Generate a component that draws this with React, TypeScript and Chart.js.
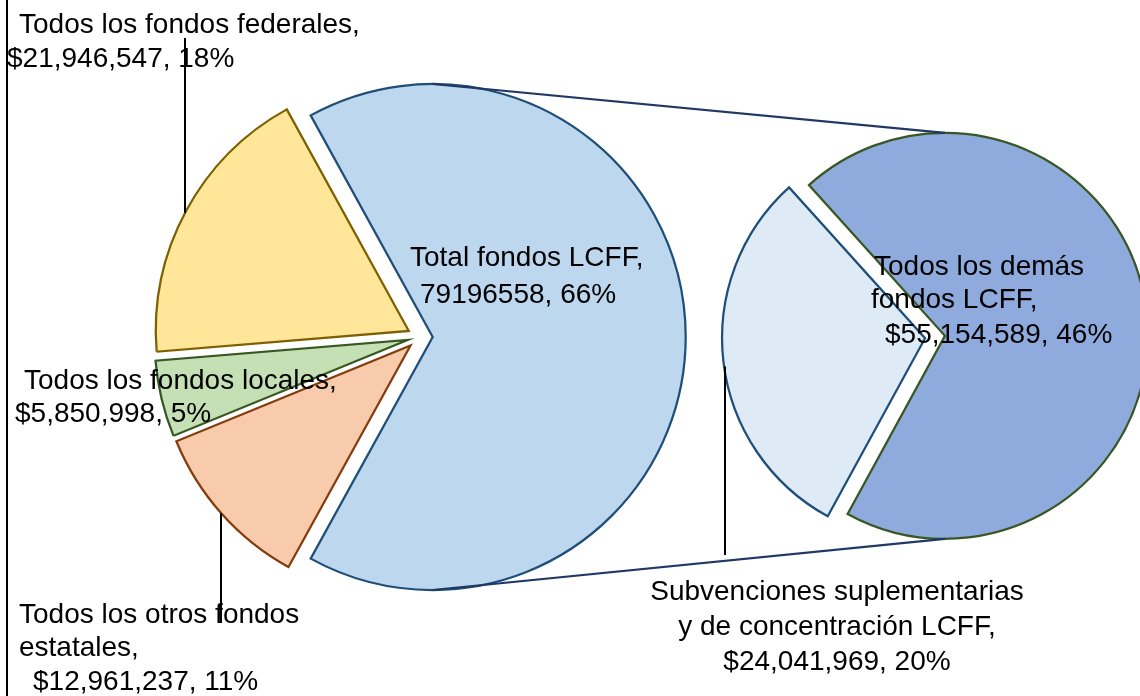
import React, { useEffect, useRef } from 'react';
import { Chart, registerables } from 'chart.js';

Chart.register(...registerables);

// ---- Data ----
const mainCategories = [
  'Total fondos LCFF',
  'Todos los otros fondos estatales',
  'Todos los fondos locales',
  'Todos los fondos federales',
];
const mainValues = [79196558, 12961237, 5850998, 21946547];
const mainColors = ['#BDD7EE', '#F8CBAD', '#C5E0B4', '#FFE699'];
const mainBorders = ['#1F4E79', '#843C0C', '#385723', '#7F6000'];

const subCategories = [
  'Subvenciones suplementarias y de concentración LCFF',
  'Todos los demás fondos LCFF',
];
const subValues = [24041969, 55154589];
const subColors = ['#DEEBF7', '#8FAADC'];
const subBorders = ['#1F4E79', '#385723'];

const grandTotal = mainValues.reduce((a, b) => a + b, 0);
const money = (v: number) => '$' + String(v).replace(/\B(?=(\d{3})+(?!\d))/g, ',');
const pct = (v: number) => Math.round((v / grandTotal) * 100) + '%';

// label text lines
const lblLCFF = ['Total fondos LCFF,', `${mainValues[0]}, ${pct(mainValues[0])}`];
const lblEstatales = ['Todos los otros fondos', 'estatales,', `${money(mainValues[1])}, ${pct(mainValues[1])}`];
const lblLocales = ['Todos los fondos locales,', `${money(mainValues[2])}, ${pct(mainValues[2])}`];
const lblFederales = ['Todos los fondos federales,', `${money(mainValues[3])}, ${pct(mainValues[3])}`];
const lblSubv = ['Subvenciones suplementarias', 'y de concentración LCFF,', `${money(subValues[0])}, ${pct(subValues[0])}`];
const lblDemas = ['Todos los demás', 'fondos LCFF,', `${money(subValues[1])}, ${pct(subValues[1])}`];

// ---- Layout / style ----
const W = 1140;
const H = 696;
const FONT = '28px "Liberation Sans", Arial, sans-serif';
const MAIN_R = 253;
const SUB_R = 203;
const MAIN_EXPLODE = 12.7;
const SUB_EXPLODE = 10;
const SUB_CENTER_ANGLE = 173.3; // degrees, screen clockwise from +x, for first slice of secondary pie

const explodePlugin = {
  id: 'explodeSlices',
  beforeDatasetDraw(chart: any, args: any, opts: any) {
    const ctx = chart.ctx;
    const dist = (opts && opts.distance) || 0;
    args.meta.data.forEach((arc: any) => {
      const a = (arc.startAngle + arc.endAngle) / 2;
      ctx.save();
      ctx.translate(Math.cos(a) * dist, Math.sin(a) * dist);
      arc.draw(ctx);
      ctx.restore();
    });
    return false;
  },
};

function arcCenter(arc: any, dist: number) {
  const a = (arc.startAngle + arc.endAngle) / 2;
  return { x: arc.x + Math.cos(a) * dist, y: arc.y + Math.sin(a) * dist, r: arc.outerRadius };
}

function arcYAt(arc: any, dist: number, x: number, lower: boolean) {
  const c = arcCenter(arc, dist);
  const dx = x - c.x;
  const dy = Math.sqrt(Math.max(c.r * c.r - dx * dx, 0));
  return lower ? c.y + dy : c.y - dy;
}

export default function App() {
  const leftRef = useRef<HTMLCanvasElement>(null);
  const rightRef = useRef<HTMLCanvasElement>(null);

  useEffect(() => {
    if (!leftRef.current || !rightRef.current) return;

    const mainRotation = 90 - ((mainValues[0] / grandTotal) * 360) / 2;
    const subTotal = subValues.reduce((a, b) => a + b, 0);
    const subRotation = 90 + SUB_CENTER_ANGLE - ((subValues[0] / subTotal) * 360) / 2;

    const common = {
      responsive: false,
      devicePixelRatio: 1,
      animation: false as const,
      events: [],
    };

    const leftChart = new Chart(leftRef.current, {
      type: 'pie',
      data: {
        labels: mainCategories,
        datasets: [
          {
            data: mainValues,
            backgroundColor: mainColors,
            borderColor: mainBorders,
            borderWidth: 2.25,
            borderJoinStyle: 'miter',
            radius: MAIN_R,
          } as any,
        ],
      },
      options: {
        ...common,
        rotation: mainRotation,
        layout: { padding: { left: 0, right: 300, top: 0, bottom: 22 } },
        plugins: {
          legend: { display: false },
          tooltip: { enabled: false },
          explodeSlices: { distance: MAIN_EXPLODE },
        } as any,
      },
      plugins: [explodePlugin],
    });

    const annotations = {
      id: 'annotations',
      afterDraw(chart: any) {
        const ctx = chart.ctx;
        ctx.save();
        // chart frame (left side)
        ctx.fillStyle = '#000';
        ctx.fillRect(6, 0, 2, H);

        const lMeta = leftChart.getDatasetMeta(0).data as any[];
        const rMeta = chart.getDatasetMeta(0).data as any[];
        const L = arcCenter(lMeta[0], MAIN_EXPLODE);
        const R = arcCenter(rMeta[1], SUB_EXPLODE);

        // connector lines
        ctx.strokeStyle = '#1F3864';
        ctx.lineWidth = 2.25;
        ctx.beginPath();
        ctx.moveTo(L.x, L.y - L.r);
        ctx.lineTo(R.x, R.y - R.r);
        ctx.moveTo(L.x, L.y + L.r);
        ctx.lineTo(R.x, R.y + R.r);
        ctx.stroke();

        // leader lines
        ctx.strokeStyle = '#000';
        ctx.lineWidth = 2;
        ctx.beginPath();
        ctx.moveTo(185, 38);
        ctx.lineTo(185, arcYAt(lMeta[3], MAIN_EXPLODE, 185, false));
        ctx.moveTo(221, arcYAt(lMeta[1], MAIN_EXPLODE, 221, true));
        ctx.lineTo(221, 623);
        ctx.moveTo(725, arcYAt(rMeta[0], SUB_EXPLODE, 725, true) - 6);
        ctx.lineTo(725, 555);
        ctx.stroke();

        // labels
        ctx.fillStyle = '#000';
        ctx.font = FONT;
        ctx.textBaseline = 'alphabetic';
        ctx.textAlign = 'left';
        const put = (lines: string[], pos: number[][]) => {
          lines.forEach((t, i) => ctx.fillText(t, pos[i][0], pos[i][1]));
        };
        put(lblFederales, [[19, 33], [7, 67]]);
        put(lblLCFF, [[410, 266], [420, 303]]);
        put(lblLocales, [[24, 389], [15, 422]]);
        put(lblEstatales, [[19, 623], [19, 656], [33, 690]]);
        put(lblDemas, [[874, 275], [871, 308], [885, 343]]);
        ctx.textAlign = 'center';
        put(lblSubv, [[837, 600], [837, 635], [837, 670]]);
        ctx.restore();
      },
    };

    const rightChart = new Chart(rightRef.current, {
      type: 'pie',
      data: {
        labels: subCategories,
        datasets: [
          {
            data: subValues,
            backgroundColor: subColors,
            borderColor: subBorders,
            borderWidth: 2.25,
            borderJoinStyle: 'miter',
            radius: SUB_R,
          } as any,
        ],
      },
      options: {
        ...common,
        rotation: subRotation,
        layout: { padding: { left: 730, right: 0, top: 0, bottom: 22 } },
        plugins: {
          legend: { display: false },
          tooltip: { enabled: false },
          explodeSlices: { distance: SUB_EXPLODE },
        } as any,
      },
      plugins: [explodePlugin, annotations],
    });

    return () => {
      rightChart.destroy();
      leftChart.destroy();
    };
  }, []);

  return (
    <div
      style={{
        position: 'fixed',
        left: 0,
        top: 0,
        width: W,
        height: H,
        background: '#fff',
        overflow: 'hidden',
      }}
    >
      <canvas ref={leftRef} width={W} height={H} style={{ position: 'absolute', left: 0, top: 0 }} />
      <canvas ref={rightRef} width={W} height={H} style={{ position: 'absolute', left: 0, top: 0 }} />
    </div>
  );
}
